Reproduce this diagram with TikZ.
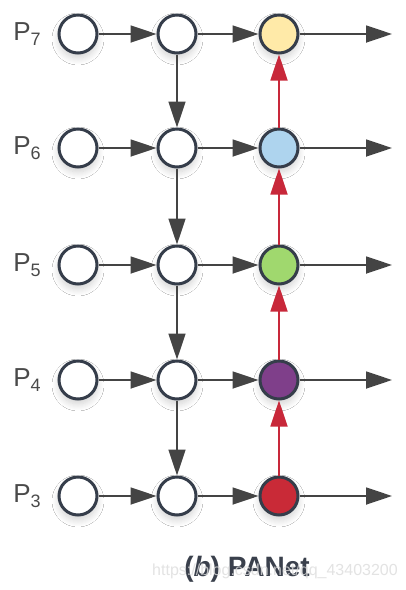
\documentclass[tikz,border=0pt]{standalone}
\usepackage{fontspec}
\setmainfont{Liberation Sans}
\usetikzlibrary{arrows.meta,shadows.blur}
\definecolor{rim}{HTML}{353D4A}
\definecolor{arr}{HTML}{444444}
\definecolor{redc}{HTML}{C8283A}
\definecolor{labc}{HTML}{4A4A4A}
\definecolor{capc}{HTML}{3A404C}
\definecolor{wmc}{HTML}{DCDCDC}
\definecolor{fy}{HTML}{FFEAA8}
\definecolor{fb}{HTML}{AED4EE}
\definecolor{fg}{HTML}{A0D86E}
\definecolor{fp}{HTML}{7F3F8A}
\definecolor{fr}{HTML}{C92A37}
\begin{document}
\begin{tikzpicture}[x=1pt,y=-1pt,
  nd/.style={circle,draw=rim,line width=3pt,minimum size=38pt,inner sep=0pt,fill=white,
    blur shadow={shadow xshift=0pt,shadow yshift=-5pt,shadow blur radius=7pt,shadow blur steps=8,shadow opacity=18}},
  ar/.style={draw=arr,line width=1.8pt,-{Triangle[length=26pt,width=17pt]}},
  rar/.style={draw=redc,line width=1.8pt,-{Triangle[length=26pt,width=17pt]}},
  lab/.style={text=labc,font=\fontsize{26}{26}\selectfont,inner sep=0pt}]
\useasboundingbox[fill=white] (0,0) rectangle (406,590);
\foreach \i/\y/\f in {7/34/fy,6/148/fb,5/265/fg,4/380/fp,3/496/fr}{
  \node[nd] (a\i) at (78,\y) {};
  \node[nd] (b\i) at (177,\y) {};
  \node[nd,fill=\f] (c\i) at (279,\y) {};
  \node[lab] (l\i) at (27,\y) {P\raisebox{-0.35ex}{\fontsize{18}{18}\selectfont\i}};
  \coordinate (o\i) at (392,\y);
  \draw[ar] (a\i) -- (b\i);
  \draw[ar] (b\i) -- (c\i);
  \draw[ar] (c\i) -- (o\i);
}
\foreach \u/\d in {7/6,6/5,5/4,4/3}{
  \draw[ar] (b\u) -- (b\d);
  \draw[rar] (c\d) -- (c\u);
}
\node[text=capc,font=\fontsize{28}{28}\selectfont\bfseries] (cap) at (247,569) {(\textit{b}) PANet};
\node[text=wmc,opacity=0.8,font=\fontsize{16}{16}\selectfont] (wm) at (275,571) {https://blog.csdn.net/qq\_43403200};
\end{tikzpicture}
\end{document}
